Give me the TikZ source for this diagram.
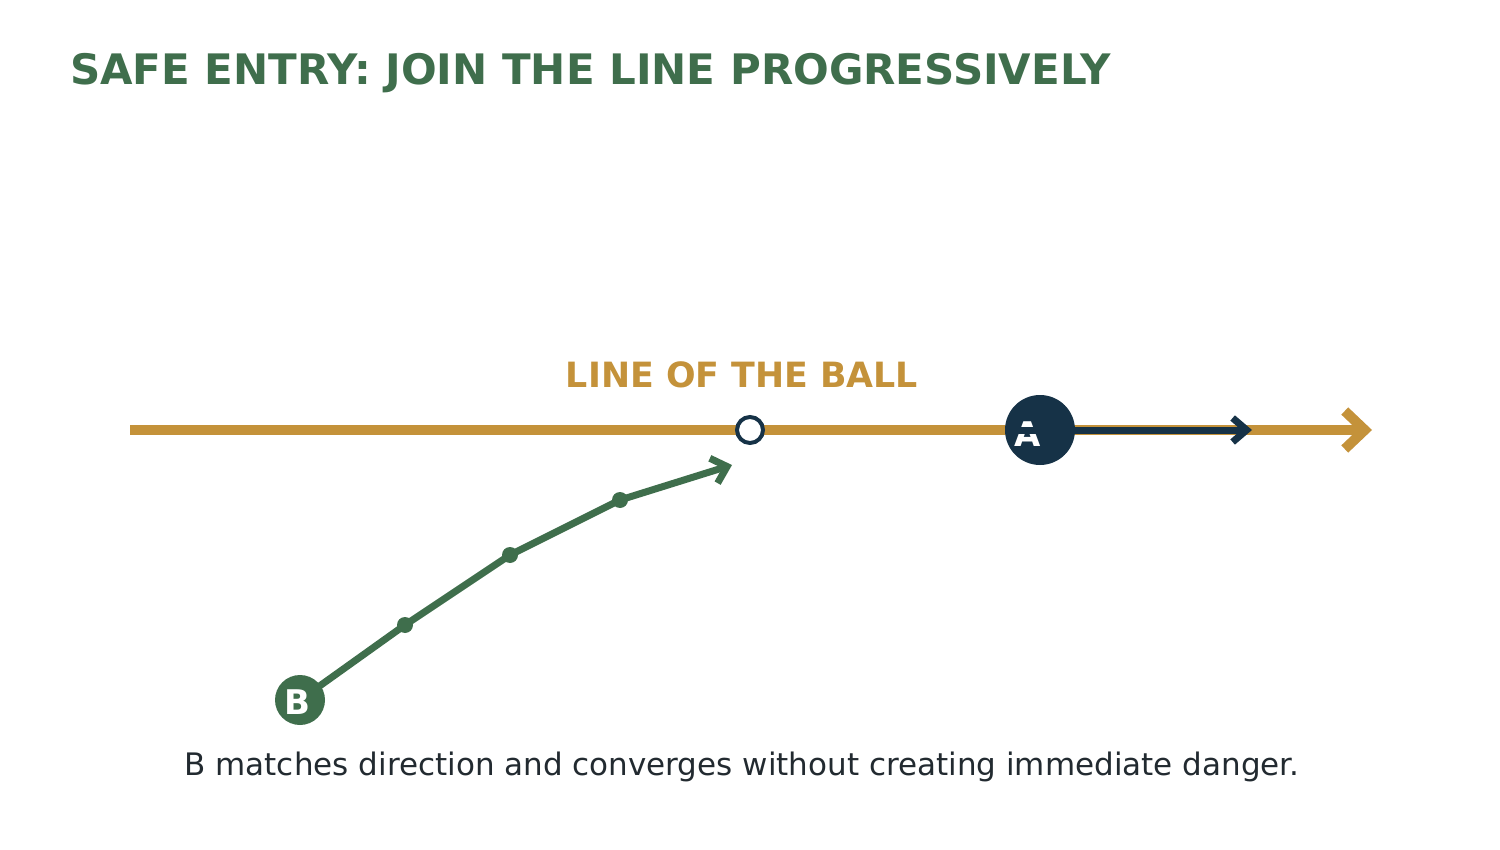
\documentclass[tikz,border=0pt]{standalone}
\usepackage{fontspec}
\setmainfont{DejaVu Sans}
\usetikzlibrary{arrows.meta}
\definecolor{bgreen}{HTML}{3F6E4C}
\definecolor{bgold}{HTML}{C4923A}
\definecolor{bnavy}{HTML}{163247}
\definecolor{bink}{HTML}{222A30}
\begin{document}
\begin{tikzpicture}[x=1pt,y=-1pt,
  waydot/.style={circle,fill=bgreen,inner sep=0pt,minimum size=16pt},
  player/.style={circle,inner sep=0pt},
  plabel/.style={text=white,font=\bfseries\fontsize{34}{34}\selectfont,anchor=base,inner sep=0pt}
]
\useasboundingbox (0,0) rectangle (1500,850);
\node[anchor=base west,text=bgreen,font=\bfseries\fontsize{42}{42}\selectfont,inner sep=0pt] (title) at (70,85) {SAFE ENTRY: JOIN THE LINE PROGRESSIVELY};
% line of the ball
\coordinate (ls) at (130,430);
\coordinate (le) at (1372,430);
\draw[bgold,line width=10pt,-{Straight Barb[length=20pt,width=38pt]}] (ls) -- (le);
\node[anchor=base,text=bgold,font=\bfseries\fontsize{34.8}{35}\selectfont,inner sep=0pt] (lbl) at (742,388) {LINE OF THE BALL};
% target
\node[circle,draw=bnavy,fill=white,line width=4pt,minimum size=26pt,inner sep=0pt] (tgt) at (750,430) {};
% player A
\node[player,fill=bnavy,minimum size=70pt] (A) at (1040,430) {};
\node[plabel] (Alab) at (1028,446) {A};
\coordinate (Aend) at (1252,430);
\draw[bnavy,line width=7pt,-{Straight Barb[length=14pt,width=24pt]}] (A.west) -- (Aend);
% path of B
\node[waydot] (p1) at (405,625) {};
\node[waydot] (p2) at (510,555) {};
\node[waydot] (p3) at (620,500) {};
\coordinate (pend) at (732,465);
\node[player,fill=bgreen,minimum size=50pt] (B) at (300,700) {};
\draw[bgreen,line width=7pt,line join=round] (B.center) -- (p1.center) -- (p2.center) -- (p3.center);
\draw[bgreen,line width=7pt,-{Straight Barb[length=14pt,width=26pt]}] (p3.center) -- (pend);
\node[plabel] (Blab) at (297,714) {B};
% caption
\node[anchor=base,text=bink,font=\fontsize{31}{31}\selectfont,inner sep=0pt] (cap) at (742,775) {B matches direction and converges without creating immediate danger.};
\end{tikzpicture}
\end{document}
